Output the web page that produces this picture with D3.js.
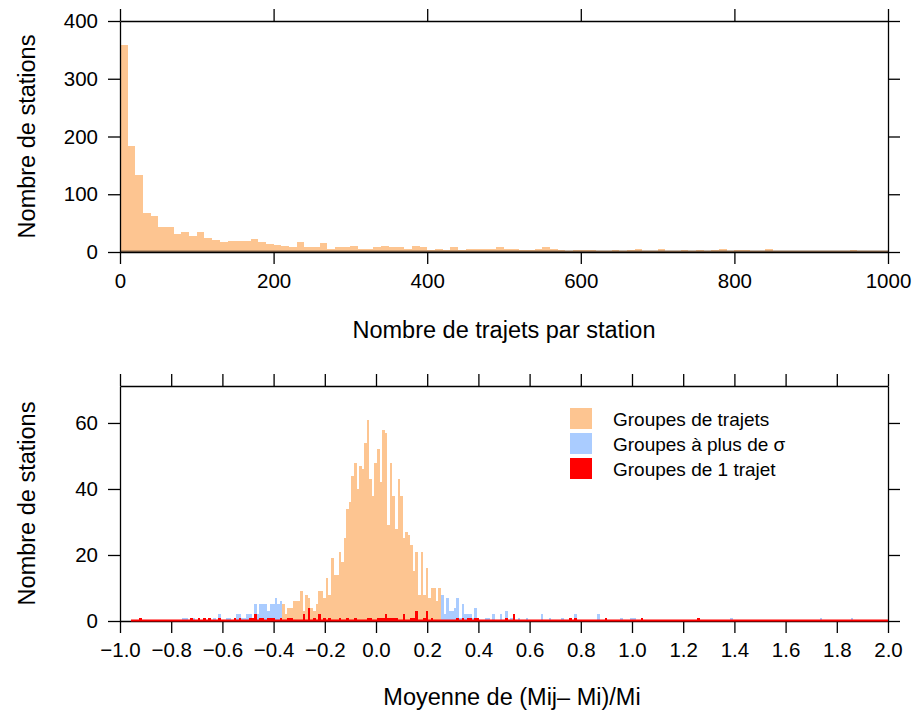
<!DOCTYPE html>
<html><head><meta charset="utf-8">
<script src="https://cdn.jsdelivr.net/npm/d3@7"></script>
<style>
body{margin:0;background:#fff}
text{font-family:"Liberation Sans",Arial,Helvetica,sans-serif;fill:#000}
</style>
</head><body>
<svg id="chart" width="912" height="713"></svg>
<script>
// ---------- Top panel data: histogram of trips per station (bins of 10) ----------
const topBinWidth = 10;
const topCounts = [
  359,184,133,67,62,43,43,31,34,27,34,24,20,17,19,19,19,22,17,13,12,10,8,17,
  8,8,15,6,8,8,10,6,6,8,11,8,8,6,11,8,3,5,3,8,3,5,6,6,6,8,6,6,3,3,6,8,6,3,0,3,3,3,
  1,1,3,1,3,6,1,1,5,1,1,3,1,3,1,3,5,1,3,3,1,1,5,1,1,1,1,1,1,1,1,1,1,3,1,1,1,1
];
const topXTicks = [0,200,400,600,800,1000];
const topYTicks = [0,100,200,300,400];
const topXTitle = "Nombre de trajets par station";
const yTitle = "Nombre de stations";

// ---------- Bottom panel data: histogram of mean (Mij - Mi)/Mi (bins of 0.01) ----------
const botBinOrigin = -0.996;
const botBinWidth = 0.01;
// "Groupes de trajets": consecutive bins starting at bin index 63
const orangeFirstBin = 63;
const orangeCounts = [
  5,2,4,4,6,6,6,9,3,8,7,4,3,5,9,9,7,13,8,19,14,14,21,18,25,34,36,44,48,40,
  47,46,54,61,43,38,48,52,42,58,57,29,48,38,28,43,38,25,27,26,23,15,21,8,21,8,16,7,10,10,6,10
];
// "Groupes à plus de σ": bin indices and counts
const blueBins = [24,25,28,36,38,41,42,45,46,47,48,49,50,51,52,53,54,55,56,57,58,59,60,61,62,
  125,126,127,128,129,130,131,132,133,134,135,136,137,138,139,142,143,145,148,150,152,155,158,
  164,167,172,177,186,195,199,200,238,273,285];
const blueCounts = [1,1,1,1,2,1,1,2,2,1,1,2,2,1,5,2,5,5,5,3,5,5,7,5,6,
  8,2,7,3,3,4,7,1,5,2,2,2,1,4,1,1,1,2,2,3,1,1,1,
  2,1,1,2,2,1,1,1,1,1,1];
// "Groupes de 1 trajet": bin indices and counts
const redFirstBin = 4;
const redBins = [7,27,30,32,34,38,44,46,50,51,52,54,55,57,58,59,62,65,66,71,73,75,77,79,81,85,88,91,
  96,97,100,101,102,103,104,105,106,107,110,113,114,115,118,119,121,131,133,135,136,138,139,150,153,
  175,177,189,203,225];
const redCounts = [1,1,1,1,1,1,1,1,1,1,2,1,1,1,1,1,1,1,1,2,4,1,2,1,1,1,1,1,
  1,1,1,1,1,2,1,1,1,1,2,1,1,3,1,3,1,1,1,1,1,1,1,1,2,
  1,1,1,1,1];
const botXTicks = [-1.0,-0.8,-0.6,-0.4,-0.2,0.0,0.2,0.4,0.6,0.8,1.0,1.2,1.4,1.6,1.8,2.0];
const botYTicks = [0,20,40,60];
const botXTitle = "Moyenne de (Mij\u2013 Mi)/Mi";
const legendLabels = ["Groupes de trajets","Groupes \u00e0 plus de \u03c3","Groupes de 1 trajet"];
const colors = {orange:"#FDC591", blue:"#AACCFF", red:"#FF0000"};

// ---------- Layout ----------
const svg = d3.select("#chart");
const L = 120, R = 888;
const tickFont = 20.5, titleFont = 23.5;

function frame(g, x, y, xTicks, yTicks, fmt) {
  const tk = 12;
  const [y0, y1] = y.range();
  const bottom = g.append("g").attr("transform",`translate(0,${y0})`)
    .call(d3.axisBottom(x).tickValues(xTicks).tickSize(tk).tickSizeOuter(0).tickPadding(9).tickFormat(fmt));
  const top = g.append("g").attr("transform",`translate(0,${y1})`)
    .call(d3.axisTop(x).tickValues(xTicks).tickSize(tk).tickSizeOuter(0).tickFormat(""));
  const left = g.append("g").attr("transform",`translate(${L},0)`)
    .call(d3.axisLeft(y).tickValues(yTicks).tickSize(tk).tickSizeOuter(0).tickPadding(10));
  const right = g.append("g").attr("transform",`translate(${R},0)`)
    .call(d3.axisRight(y).tickValues(yTicks).tickSize(tk).tickSizeOuter(0).tickFormat(""));
  [bottom, top, left, right].forEach(a => {
    a.selectAll("path,line").attr("stroke","#000").attr("stroke-width",1.3);
    a.selectAll("text").attr("font-size",tickFont).attr("font-family","'Liberation Sans',Arial,sans-serif").attr("fill","#000");
  });
}

// ---------- Top panel ----------
const xTop = d3.scaleLinear().domain([0,1000]).range([L,R]);
const yTop = d3.scaleLinear().domain([0,400]).range([252,21]);
const gTop = svg.append("g");
const tX = i => Math.round(xTop(i*topBinWidth));
gTop.append("g").attr("shape-rendering","crispEdges")
  .selectAll("rect.bar").data(topCounts).join("rect")
  .attr("x",(d,i)=>tX(i))
  .attr("width",(d,i)=>tX(i+1)-tX(i))
  .attr("y",d=>yTop(d))
  .attr("height",d=>yTop(0)-yTop(d))
  .attr("fill",colors.orange);
gTop.append("line").attr("x1",xTop(0)).attr("x2",xTop(1000)).attr("y1",yTop(0)-0.5).attr("y2",yTop(0)-0.5)
  .attr("stroke","#8a6a4e").attr("stroke-width",2);
frame(gTop, xTop, yTop, topXTicks, topYTicks, d3.format("d"));

svg.append("text").attr("x",(L+R)/2).attr("y",338).attr("text-anchor","middle")
  .attr("font-size",titleFont).text(topXTitle);
svg.append("text").attr("transform",`translate(35,${(21+252)/2}) rotate(-90)`).attr("text-anchor","middle")
  .attr("font-size",titleFont).text(yTitle);

// ---------- Bottom panel ----------
const xBot = d3.scaleLinear().domain([-1,2]).range([L,R]);
const yBot = d3.scaleLinear().domain([0,71.2]).range([621,386]);
const gBot = svg.append("g");
const binX = j => Math.round(xBot(botBinOrigin + j*botBinWidth));
const binW = j => binX(j+1) - binX(j);

const orangeData = orangeCounts.map((c,i)=>({j:orangeFirstBin+i, c}));
const blueData = blueBins.map((j,i)=>({j, c:blueCounts[i]}));
const redData = redBins.map((j,i)=>({j, c:redCounts[i]}));

function bars(data, color) {
  gBot.append("g").attr("shape-rendering","crispEdges")
    .selectAll("rect").data(data).join("rect")
    .attr("x",d=>binX(d.j)).attr("width",d=>binW(d.j))
    .attr("y",d=>yBot(d.c)).attr("height",d=>yBot(0)-yBot(d.c))
    .attr("fill",color);
}
bars(orangeData, colors.orange);
bars(blueData, colors.blue);
bars(redData, colors.red);
frame(gBot, xBot, yBot, botXTicks, botYTicks, d3.format(".1f"));
gBot.append("line").attr("x1",binX(redFirstBin)).attr("x2",xBot(2)).attr("y1",yBot(0)-0.5).attr("y2",yBot(0)-0.5)
  .attr("stroke",colors.red).attr("stroke-width",2.2);

svg.append("text").attr("x",(L+R)/2+8).attr("y",705).attr("text-anchor","middle")
  .attr("font-size",titleFont).text(botXTitle);
svg.append("text").attr("transform",`translate(35,${(386+621)/2}) rotate(-90)`).attr("text-anchor","middle")
  .attr("font-size",titleFont).text(yTitle);

// ---------- Legend ----------
const legColors = [colors.orange, colors.blue, colors.red];
const leg = svg.append("g").attr("transform","translate(570,408)");
legendLabels.forEach((t,i)=>{
  leg.append("rect").attr("x",0).attr("y",i*25).attr("width",22).attr("height",21).attr("fill",legColors[i]);
  leg.append("text").attr("x",43).attr("y",i*25+18).attr("font-size",19).text(t);
});
</script>
</body></html>
